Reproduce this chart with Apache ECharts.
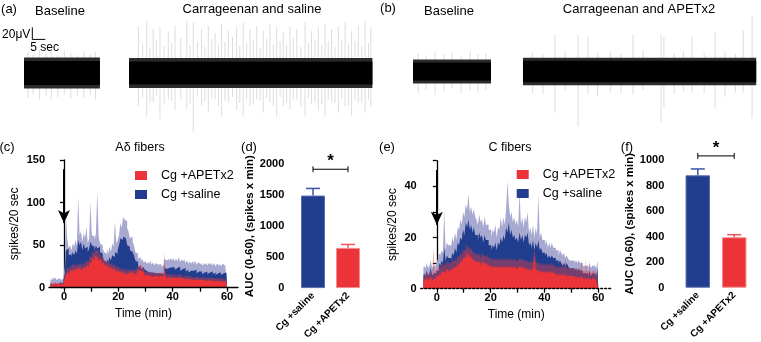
<!DOCTYPE html>
<html>
<head>
<meta charset="utf-8">
<script src="https://cdn.jsdelivr.net/npm/echarts@6/dist/echarts.min.js"></script>
<style>
html, body { margin: 0; padding: 0; background: #fff; }
#chart { width: 761px; height: 342px; }
</style>
</head>
<body>
<div id="chart"></div>
<script>
const FONT = '"Liberation Sans", Arial, Helvetica, sans-serif';
const BLUE = '#213e8e', BLUE_LIGHT = '#a7a9d1';
const RED = '#eb3338', RED_LIGHT = 'rgba(236,60,64,0.42)';

// (a) / (b) raw traces: band segments (s) and half heights (uV)
const aSegStart = [0, 40.4], aSegEnd = [29.2, 134], aCore = [20, 19], aFuzz = [26, 25];
const bSegStart = [0, 42.3], bSegEnd = [30, 132], bCore = [15, 18], bFuzz = [20, 23];

// spikes: time (s), up and down amplitude (uV)
const aSpikeT = [1.5, 3.5, 6, 8.5, 10.5, 13, 15.5, 18, 20.5, 23, 25.5, 27.5,
  44.0, 47.2, 49.7, 52.3, 55.5, 58.1, 62.6, 65.1, 68.3, 70.9, 73.5, 76.0, 78.6, 81.8, 84.3, 86.9,
  89.5, 92.0, 94.6, 97.2, 99.7, 102.3, 104.9, 108.1, 110.6, 113.2, 115.8, 118.3, 120.9, 123.5,
  126.0, 128.6, 131.2, 133.4,
  45.6, 48.5, 51, 53.9, 56.8, 60.3, 63.9, 66.7, 69.6, 72.2, 74.8, 77.3, 80.2, 83, 85.6, 88.2,
  90.8, 93.3, 95.9, 98.5, 101, 103.6, 106.5, 109.4, 111.9, 114.5, 117, 119.6, 122.2, 124.8, 127.3, 129.9, 132.5];
const aSpikeUp = [36, 30, 38, 33, 35, 31, 37, 34, 30, 36, 32, 35,
  78, 87, 73, 76, 70, 78, 88, 84, 73, 78, 67, 81, 70, 76, 84, 73,
  78, 70, 81, 76, 67, 78, 73, 84, 70, 76, 81, 73, 78, 84,
  70, 78, 87, 76,
  48, 42, 55, 45, 50, 58, 46, 52, 44, 56, 47, 52, 60, 45, 50, 55,
  42, 57, 48, 52, 46, 58, 44, 50, 55, 47, 52, 44, 56, 48, 53, 45, 50];
const aSpikeDn = [42, 36, 45, 38, 44, 40, 35, 43, 39, 41, 37, 44,
  55, 72, 49, 77, 44, 61, 60, 99, 55, 66, 44, 72, 49, 61, 72, 55,
  44, 66, 49, 72, 55, 61, 44, 72, 52, 63, 72, 49, 66, 55,
  72, 49, 66, 55,
  40, 50, 38, 52, 46, 44, 52, 40, 48, 42, 55, 46, 40, 50, 44, 52,
  46, 42, 55, 40, 50, 44, 56, 42, 48, 52, 45, 50, 42, 55, 46, 50, 44];

const bSpikeT = [2, 5, 8.5, 12, 15, 18.5, 22, 25, 28,
  54.6, 63.5, 67.3, 84.6, 95.4, 96.5, 107.3, 116.2, 127.0, 130.4,
  46, 50, 58.5, 71, 76, 80, 88.5, 100.5, 104, 112, 120, 124];
const bSpikeUp = [30, 27, 33, 28, 31, 26, 34, 29, 30,
  61, 61, 58, 61, 61, 58, 58, 66, 69, 94,
  32, 30, 34, 31, 33, 29, 35, 30, 34, 31, 33, 30];
const bSpikeDn = [36, 30, 39, 33, 28, 37, 32, 35, 31,
  69, 92, 39, 39, 84, 60, 35, 61, 35, 78,
  36, 38, 32, 40, 34, 37, 31, 38, 33, 36, 42, 35];

// (c) / (e) spikes per 20 sec, binned every 0.5 min from -5 to 60 min
const binStart = -5, binStep = 0.5;
const cSaline = [5,4,6,5,6,4,5,6,4,5, 8,16,44,46,38,40,36,42,38,44,
  40,56,50,54,44,52,46,48,42,46, 54,50,48,44,50,46,48,42,40,36,
  32,30,34,30,36,32,38,36,42,40, 44,50,58,56,60,58,56,50,48,44,
  42,40,38,32,30,24,26,22,24,22, 21,19,20,18,20,18,19,17,18,17,
  16,17,15,16,24,22,20,23,21,24, 22,24,21,23,21,25,20,22,21,23,
  19,21,18,20,18,20,18,21,17,19, 18,19,16,18,17,19,16,18,17,19,
  16,18,15,17,16,18,15,17,16,18,17];
const cSalineUpper = [10,9,12,10,13,9,11,12,9,11, 12,24,82,56,46,50,44,52,48,56,
  50,107,62,66,54,64,58,72,52,58, 101,62,60,56,64,113,60,52,50,46,
  42,40,46,40,48,42,52,48,78,52, 56,62,76,70,83,80,78,70,66,58,
  60,54,50,42,40,34,36,31,34,30, 31,28,30,27,32,27,30,26,29,27,
  26,28,25,27,34,32,30,34,31,35, 32,35,31,34,31,36,30,33,31,34,
  29,32,28,31,28,31,28,32,27,30, 28,30,26,29,27,30,26,29,27,30,
  26,29,25,28,26,29,25,28,26,29,28];
const cApetx2 = [3,4,3,4,3,4,3,4,3,4, 5,10,15,18,17,21,19,23,20,22,
  20,24,21,23,19,25,22,26,25,29, 30,35,33,38,36,37,32,34,29,30,
  26,28,24,26,22,24,21,23,19,21, 18,20,17,19,16,18,15,17,16,18,
  16,18,15,17,18,21,20,22,19,20, 14,15,13,14,12,13,12,14,12,13,
  13,14,12,13,30,14,11,12,10,11, 11,12,10,11,10,12,10,11,9,10,
  9,10,9,10,8,9,8,10,8,9, 8,9,8,9,7,8,7,9,7,8,
  7,8,7,8,6,8,6,7,6,7,5];
const cApetx2Upper = [5,6,5,6,5,6,5,6,5,6, 8,14,20,24,22,27,24,29,25,28,
  25,30,26,29,24,31,27,32,31,36, 36,42,40,46,43,45,38,41,35,36,
  31,34,29,31,27,29,26,28,24,26, 22,25,21,24,20,23,19,22,20,23,
  20,23,19,22,23,27,26,28,24,25, 18,19,17,18,16,17,16,18,16,17,
  17,18,16,17,44,19,15,16,14,15, 14,16,13,15,13,16,13,15,12,14,
  12,14,12,13,11,12,11,13,11,12, 11,12,11,12,10,11,10,12,10,11,
  10,11,10,11,9,11,9,10,9,10,7];

const eSaline = [5,6,5,7,5,6,8,5,6,6, 7,7,10,9,11,10,16,11,13,12,
  12,11,14,13,16,14,18,17,20,19, 23,21,26,24,27,23,25,22,24,21,
  21,19,22,20,21,18,21,19,19,17, 17,15,17,16,18,15,18,17,20,18,
  21,19,24,22,26,21,23,20,21,19, 20,18,22,19,21,18,21,20,22,17,
  18,16,19,15,18,16,19,15,16,14, 14,13,14,12,13,12,13,12,12,11,
  11,10,11,10,9,10,9,10,9,8, 8,8,8,7,8,7,8,7,7,6,
  6,6,6,5,7,5,6,6,6,5,8];
const eSalineUpper = [8,9,8,10,8,9,11,8,9,9, 10,11,14,13,15,14,31,15,18,17,
  17,16,20,18,22,19,24,23,27,25, 30,28,33,31,37,30,32,29,31,28,
  27,25,29,26,27,24,28,25,25,23, 23,20,23,22,25,20,24,23,28,24,
  28,25,31,42,33,28,30,26,28,25, 27,24,38,25,28,24,28,26,30,22,
  24,21,25,20,24,21,37,20,22,19, 19,17,19,16,18,16,18,16,16,15,
  15,13,15,14,13,14,12,13,12,11, 11,11,11,10,11,10,11,10,10,9,
  9,9,9,8,10,8,9,9,9,8,11];
const eApetx2 = [3,4,3,5,3,4,5,3,4,4, 5,5,6,5,7,6,7,6,8,7,
  7,7,8,8,9,8,10,9,11,10, 12,12,15,13,14,12,13,11,12,10,
  11,10,11,9,11,10,10,9,10,9, 9,8,9,8,9,8,9,8,9,8,
  9,8,9,8,9,8,9,8,9,8, 8,8,9,8,9,8,8,7,8,7,
  8,7,8,13,8,7,7,6,7,6, 7,6,7,6,7,6,7,6,6,5,
  6,5,6,5,6,5,6,5,5,5, 5,5,5,4,5,4,5,4,5,4,
  4,4,4,4,4,3,4,4,4,3,3];
const eApetx2Upper = [5,6,5,7,5,6,7,5,16,6, 7,8,9,8,10,9,10,9,11,10,
  10,10,11,11,12,11,13,12,14,13, 15,15,18,16,17,15,16,14,15,13,
  14,13,14,12,14,13,13,12,13,12, 12,11,12,11,12,11,12,11,12,11,
  12,11,12,11,12,11,12,11,12,11, 11,11,12,11,12,11,11,10,11,10,
  11,10,11,16,11,10,10,9,10,9, 10,9,10,9,10,9,10,9,9,8,
  9,8,9,8,9,8,12,8,8,8, 8,8,8,7,8,7,8,7,11,7,
  7,12,7,7,11,6,7,7,7,6,5];

// (d) / (f) AUC (0-60)
const groups = ['Cg +saline', 'Cg +APETx2'];
const dMean = [1495, 650], dUpper = [1610, 705], dSigY = 1920;
const fMean = [880, 395], fUpper = [930, 415], fSigY = 1032;

const chart = echarts.init(document.getElementById('chart'));

function toPoints(arr) {
  return arr.map((v, i) => [binStart + i * binStep, v]);
}

function area(name, axis, arr, color) {
  return {
    type: 'line', name: name, xAxisIndex: axis, yAxisIndex: axis,
    data: toPoints(arr), step: 'middle', symbol: 'none', silent: true,
    lineStyle: { width: 0, color: color },
    itemStyle: { color: color },
    areaStyle: { color: color, opacity: 1 }
  };
}

function bandSeries(axis, starts, ends, half, color) {
  return {
    type: 'custom', xAxisIndex: axis, yAxisIndex: axis, silent: true,
    data: starts.map((s, i) => [s, ends[i], -half[i], half[i]]),
    renderItem: (params, api) => {
      const p0 = api.coord([api.value(0), api.value(3)]);
      const p1 = api.coord([api.value(1), api.value(2)]);
      return { type: 'rect', shape: { x: p0[0], y: p0[1], width: p1[0] - p0[0], height: p1[1] - p0[1] },
        style: { fill: color } };
    }
  };
}

function spikeSeries(axis, ts, ups, dns) {
  return {
    type: 'custom', xAxisIndex: axis, yAxisIndex: axis, silent: true,
    data: ts.map((t, i) => [t, ups[i], -dns[i]]),
    renderItem: (params, api) => {
      const p0 = api.coord([api.value(0), api.value(1)]);
      const p1 = api.coord([api.value(0), api.value(2)]);
      return { type: 'line', shape: { x1: p0[0], y1: p0[1], x2: p1[0], y2: p1[1] },
        style: { stroke: '#cfcfcf', lineWidth: 0.7 } };
    }
  };
}

function arrowLine(x, y0, y1) {
  return {
    silent: true, symbol: ['none', 'arrow'], symbolSize: [9, 13],
    label: { show: false },
    lineStyle: { color: '#000', width: 2, type: 'solid' },
    data: [[{ coord: [x, y0] }, { coord: [x, y1] }]]
  };
}

function errSeries(axis, mean, upper) {
  return {
    type: 'custom', xAxisIndex: axis, yAxisIndex: axis, silent: true, z: 3,
    data: mean.map((m, i) => [i, m, upper[i]]),
    renderItem: (params, api) => {
      const c = params.dataIndex === 0 ? '#3a56a8' : '#ef5459';
      const p0 = api.coord([api.value(0), api.value(1)]);
      const p1 = api.coord([api.value(0), api.value(2)]);
      return { type: 'group', children: [
        { type: 'line', shape: { x1: p0[0], y1: p0[1], x2: p1[0], y2: p1[1] }, style: { stroke: c, lineWidth: 1.5 } },
        { type: 'line', shape: { x1: p1[0] - 7, y1: p1[1], x2: p1[0] + 7, y2: p1[1] }, style: { stroke: c, lineWidth: 1.5 } }
      ] };
    }
  };
}

function sigSeries(axis, y) {
  return {
    type: 'custom', xAxisIndex: axis, yAxisIndex: axis, silent: true,
    data: [[0, 1, y]],
    renderItem: (params, api) => {
      const a = api.coord([api.value(0), api.value(2)]);
      const b = api.coord([api.value(1), api.value(2)]);
      const ls = { stroke: '#000', lineWidth: 1 };
      return { type: 'group', children: [
        { type: 'line', shape: { x1: a[0], y1: a[1], x2: b[0], y2: b[1] }, style: ls },
        { type: 'line', shape: { x1: a[0], y1: a[1] - 3, x2: a[0], y2: a[1] + 3 }, style: ls },
        { type: 'line', shape: { x1: b[0], y1: b[1] - 3, x2: b[0], y2: b[1] + 3 }, style: ls },
        { type: 'text', x: (a[0] + b[0]) / 2, y: a[1] - 8,
          style: { text: '*', font: 'bold 17px ' + FONT, fill: '#000', align: 'center', verticalAlign: 'middle' } }
      ] };
    }
  };
}

// scale bar drawn in trace (a) units: 20 uV and 5 sec
const scaleBar = {
  type: 'custom', xAxisIndex: 0, yAxisIndex: 0, silent: true,
  data: [[3.2, 56, 20, 5]],
  renderItem: (params, api) => {
    const o = api.coord([api.value(0), api.value(1)]);
    const top = api.coord([api.value(0), api.value(1) + api.value(2)]);
    const right = api.coord([api.value(0) + api.value(3), api.value(1)]);
    return { type: 'group', children: [
      { type: 'polyline', shape: { points: [top, o, right] }, style: { stroke: '#000', fill: null, lineWidth: 1 } },
      { type: 'text', x: o[0] - 2, y: (o[1] + top[1]) / 2 + 1,
        style: { text: '20\u03bcV', font: '12px ' + FONT, fill: '#000', align: 'right', verticalAlign: 'middle' } },
      { type: 'text', x: o[0] - 2, y: o[1] + 2,
        style: { text: '5 sec', font: '12px ' + FONT, fill: '#000', align: 'left', verticalAlign: 'top' } }
    ] };
  }
};

const axisLine = { lineStyle: { color: '#000', width: 1.3 } };
const axisTick = { length: 4, lineStyle: { color: '#000', width: 1.3 } };
const tickLabel = { color: '#000', fontWeight: 'bold', fontSize: 11, fontFamily: FONT, margin: 4 };
const nameStyle = { color: '#000', fontSize: 12, fontFamily: FONT };

function text(x, y, str, size) {
  return { type: 'text', x: x, y: y, silent: true,
    style: { text: str, font: (size || 13) + 'px ' + FONT, fill: '#000', align: 'center', verticalAlign: 'middle' } };
}

const option = {
  animation: false,
  backgroundColor: '#fff',
  grid: [
    { left: 24, top: 10, width: 348.4, height: 126 },
    { left: 413, top: 10, width: 343.2, height: 123 },
    { left: 49, top: 160, width: 189, height: 127.7 },
    { left: 295.5, top: 164.3, width: 70, height: 125.7 },
    { left: 420.7, top: 160.7, width: 191, height: 128 },
    { left: 679.6, top: 160, width: 72.8, height: 127.7 }
  ],
  xAxis: [
    { gridIndex: 0, type: 'value', min: 0, max: 134, show: false },
    { gridIndex: 1, type: 'value', min: 0, max: 132, show: false },
    { gridIndex: 2, type: 'value', min: -5.5, max: 64, z: 3, splitLine: { show: false },
      name: 'Time (min)', nameLocation: 'middle', nameGap: 20, nameTextStyle: nameStyle,
      axisLine: axisLine, axisTick: Object.assign({ customValues: [0, 10, 20, 30, 40, 50, 60] }, axisTick),
      axisLabel: Object.assign({ customValues: [0, 20, 40, 60] }, tickLabel) },
    { gridIndex: 3, type: 'category', data: groups, axisLine: { show: false }, axisTick: { show: false },
      axisLabel: Object.assign({}, tickLabel, { rotate: 45, fontSize: 10, margin: 6 }) },
    { gridIndex: 4, type: 'value', min: -6, max: 65, z: 3, splitLine: { show: false },
      name: 'Time (min)', nameLocation: 'middle', nameGap: 20, nameTextStyle: nameStyle,
      axisLine: { lineStyle: { color: '#000', width: 1.3, type: [2, 2] } },
      axisTick: Object.assign({ customValues: [0, 10, 20, 30, 40, 50, 60] }, axisTick),
      axisLabel: Object.assign({ customValues: [0, 20, 40, 60] }, tickLabel) },
    { gridIndex: 5, type: 'category', data: groups, axisLine: { show: false }, axisTick: { show: false },
      axisLabel: Object.assign({}, tickLabel, { rotate: 45, fontSize: 10, margin: 6 }) }
  ],
  yAxis: [
    { gridIndex: 0, type: 'value', min: -105, max: 105, show: false },
    { gridIndex: 1, type: 'value', min: -102.5, max: 102.5, show: false },
    { gridIndex: 2, type: 'value', min: 0, max: 150, interval: 50, splitLine: { show: false },
      name: 'spikes/20 sec', nameLocation: 'middle', nameGap: 28, nameTextStyle: nameStyle,
      axisLine: axisLine, axisTick: axisTick, axisLabel: tickLabel },
    { gridIndex: 3, type: 'value', min: 0, max: 2000, interval: 250, offset: 7.2, splitLine: { show: false },
      name: 'AUC (0-60), (spikes x min)', nameLocation: 'middle', nameGap: 26,
      nameTextStyle: Object.assign({}, nameStyle, { fontWeight: 'bold', fontSize: 11.5 }),
      axisLine: axisLine, axisTick: axisTick,
      axisLabel: Object.assign({ formatter: v => (v % 500 === 0 ? String(v) : '') }, tickLabel) },
    { gridIndex: 4, type: 'value', min: 0, max: 50, interval: 10, splitLine: { show: false },
      name: 'spikes/20 sec', nameLocation: 'middle', nameGap: 22, nameTextStyle: nameStyle,
      axisLine: axisLine, axisTick: axisTick,
      axisLabel: Object.assign({ formatter: v => (v % 20 === 0 ? String(v) : '') }, tickLabel) },
    { gridIndex: 5, type: 'value', min: 0, max: 1000, interval: 200, offset: 11.3, splitLine: { show: false },
      name: 'AUC (0-60), (spikes x min)', nameLocation: 'middle', nameGap: 24,
      nameTextStyle: Object.assign({}, nameStyle, { fontWeight: 'bold', fontSize: 11.5 }),
      axisLine: axisLine, axisTick: axisTick,
      axisLabel: Object.assign({ formatter: v => String(v) }, tickLabel) }
  ],
  legend: [
    { left: 130, top: 164, orient: 'vertical', itemWidth: 12, itemHeight: 9, itemGap: 6,
      selectedMode: false, textStyle: { fontSize: 12.5, fontFamily: FONT, color: '#000', padding: [0, 0, 0, 9] },
      data: [{ name: 'Cg +APETx2', icon: 'rect' }, { name: 'Cg +saline', icon: 'rect' }] },
    { left: 511.7, top: 163, orient: 'vertical', itemWidth: 12, itemHeight: 9, itemGap: 6,
      selectedMode: false, textStyle: { fontSize: 12.5, fontFamily: FONT, color: '#000', padding: [0, 0, 0, 9] },
      data: [{ name: 'Cg +APETx2', icon: 'rect' }, { name: 'Cg +saline', icon: 'rect' }] }
  ],
  graphic: [
    text(9, 9, '(a)'), text(60, 11, 'Baseline'), text(252, 9, 'Carrageenan and saline'),
    text(388, 8, '(b)'), text(449, 11, 'Baseline'), text(639, 9, 'Carrageenan and APETx2'),
    text(7, 147, '(c)'), text(140, 148, 'A\u03b4 fibers', 12.5), text(249, 147, '(d)'),
    text(387, 147, '(e)'), text(510, 148, 'C fibers', 12.5), text(627, 147, '(f)')
  ],
  series: [
    spikeSeries(0, aSpikeT, aSpikeUp, aSpikeDn),
    bandSeries(0, aSegStart, aSegEnd, aFuzz, '#2b2b2b'),
    bandSeries(0, aSegStart, aSegEnd, aCore, '#000'),
    scaleBar,
    spikeSeries(1, bSpikeT, bSpikeUp, bSpikeDn),
    bandSeries(1, bSegStart, bSegEnd, bFuzz, '#2b2b2b'),
    bandSeries(1, bSegStart, bSegEnd, bCore, '#000'),

    area('saline SEM c', 2, cSalineUpper, BLUE_LIGHT),
    Object.assign(area('Cg +saline', 2, cSaline, BLUE), { markLine: arrowLine(0, 139, 76) }),
    area('APETx2 SEM c', 2, cApetx2Upper, RED_LIGHT),
    area('Cg +APETx2', 2, cApetx2, RED),

    { type: 'bar', xAxisIndex: 3, yAxisIndex: 3, barWidth: 24, silent: true,
      data: [
        { value: dMean[0], itemStyle: { color: BLUE, borderColor: '#5a6db0', borderWidth: 1 } },
        { value: dMean[1], itemStyle: { color: RED, borderColor: '#f28d90', borderWidth: 1 } }
      ] },
    errSeries(3, dMean, dUpper),
    sigSeries(3, dSigY),

    area('saline SEM e', 4, eSalineUpper, BLUE_LIGHT),
    Object.assign(area('Cg +saline', 4, eSaline, BLUE), { markLine: arrowLine(0, 46.4, 25) }),
    area('APETx2 SEM e', 4, eApetx2Upper, RED_LIGHT),
    area('Cg +APETx2', 4, eApetx2, RED),

    { type: 'bar', xAxisIndex: 5, yAxisIndex: 5, barWidth: 24.5, silent: true,
      data: [
        { value: fMean[0], itemStyle: { color: BLUE, borderColor: '#5a6db0', borderWidth: 1 } },
        { value: fMean[1], itemStyle: { color: RED, borderColor: '#f28d90', borderWidth: 1 } }
      ] },
    errSeries(5, fMean, fUpper),
    sigSeries(5, fSigY)
  ]
};

chart.setOption(option);
</script>
</body>
</html>
